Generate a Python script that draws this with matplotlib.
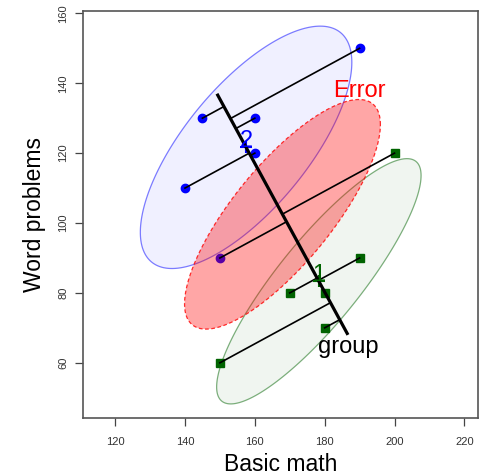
import numpy as np
import matplotlib.pyplot as plt

plt.rcParams['font.family'] = ['Liberation Sans', 'DejaVu Sans']

# math scores: basic math (BM) and word problems (WP) for two groups
grp1_bm = [190, 170, 180, 200, 150, 180]
grp1_wp = [90, 80, 80, 120, 60, 70]
grp2_bm = [160, 190, 150, 160, 140, 145]
grp2_wp = [120, 150, 90, 130, 110, 130]

g1 = np.column_stack([grp1_bm, grp1_wp]).astype(float)
g2 = np.column_stack([grp2_bm, grp2_wp]).astype(float)


def f_radius(level, df2):
    # sqrt(2 * qf(level, 2, df2)); closed form for 2 numerator df
    q = df2 / 2.0 * ((1 - level) ** (-2.0 / df2) - 1)
    return np.sqrt(2 * q)


def ellipse_pts(center, cov, radius, n=200):
    t = np.linspace(0, 2 * np.pi, n)
    L = np.linalg.cholesky(cov)
    circ = np.vstack([np.cos(t), np.sin(t)])
    return (center[:, None] + radius * L @ circ).T


m1, m2 = g1.mean(axis=0), g2.mean(axis=0)
c1, c2 = np.cov(g1.T), np.cov(g2.T)
gm = np.vstack([g1, g2]).mean(axis=0)
dfe = len(g1) + len(g2) - 2
pooled = ((len(g1) - 1) * c1 + (len(g2) - 1) * c2) / dfe

fig = plt.figure(figsize=(4.81, 4.76), dpi=100)
ax = fig.add_axes([0.1732, 0.1218, 0.8206, 0.8545])

# raw data points (under the ellipses)
ax.plot(g2[:, 0], g2[:, 1], 'o', color='#0000ff', ms=6, zorder=1)
ax.plot(g1[:, 0], g1[:, 1], 's', color='#006400', ms=5.8, zorder=1)

# data ellipses for each group
e2 = ellipse_pts(m2, c2, f_radius(0.68, len(g2) - 1))
ax.fill(e2[:, 0], e2[:, 1], facecolor=(0, 0, 1, 0.06),
        edgecolor=(0, 0, 1, 0.5), lw=0.9, zorder=2)
e1 = ellipse_pts(m1, c1, f_radius(0.68, len(g1) - 1))
ax.fill(e1[:, 0], e1[:, 1], facecolor=(0, 0.39, 0, 0.06),
        edgecolor=(0, 0.39, 0, 0.5), lw=0.9, zorder=2)

# error ellipse around the grand mean
ee = ellipse_pts(gm, pooled, f_radius(0.68, dfe))
ax.fill(ee[:, 0], ee[:, 1], facecolor=(1, 0, 0, 0.35),
        edgecolor=(1, 0, 0, 0.8), lw=0.9, ls=(0, (3, 2)), zorder=3)
top = ee[np.argmax(ee[:, 1])]
ax.text(top[0], top[1] + 0.6, 'Error', color='red', fontsize=17,
        ha='center', va='baseline', zorder=6)

# canonical axis through the group means
d = m2 - m1
u = d / np.linalg.norm(d)
p_top = gm + 0.9 * d
p_bot = gm - 0.9 * d
ax.plot([p_top[0], p_bot[0]], [p_top[1], p_bot[1]], color='black',
        lw=2.3, solid_capstyle='butt', zorder=5)
ax.annotate('group', xy=p_bot, xytext=(0, -13), textcoords='offset points',
            ha='center', va='baseline', fontsize=17, zorder=6)

# projections of the points onto the canonical axis
for pts in (g1, g2):
    for p in pts:
        proj = gm + np.dot(p - gm, u) * u
        ax.plot([p[0], proj[0]], [p[1], proj[1]], color='black', lw=1.2,
                zorder=4)

# group means
for m, lab, col in ((m1, '1', '#006400'), (m2, '2', '#0000ff')):
    ax.plot(m[0], m[1], '+', color=col, ms=9, mew=1.5, zorder=4)
    ax.text(m[0], m[1], lab, color=col, fontsize=17, ha='center',
            va='baseline', zorder=6)

ax.set_xlim(110.9, 223.9)
ax.set_ylim(44.2, 160.6)
ax.set_xticks([120, 140, 160, 180, 200, 220])
ax.set_yticks([60, 80, 100, 120, 140, 160])
ax.tick_params(labelsize=8, length=6, width=0.9, color='#444444',
               labelcolor='#333333')
ax.tick_params(axis='x', pad=8)
ax.tick_params(axis='y', pad=5)
for lbl in ax.get_yticklabels():
    lbl.set_rotation(90)
    lbl.set_va('center')
for s in ax.spines.values():
    s.set_color('#555555')
    s.set_linewidth(1.2)
ax.set_xlabel('Basic math', fontsize=16.5, labelpad=4)
ax.set_ylabel('Word problems', fontsize=16.5, labelpad=9)

fig.savefig('out.png', dpi=100)
